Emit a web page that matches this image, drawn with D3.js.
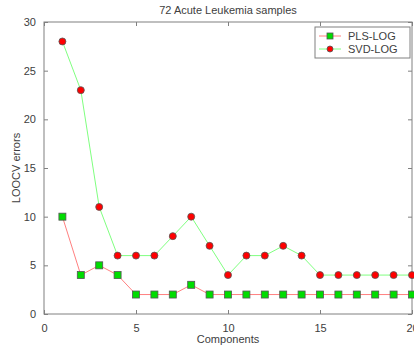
<!DOCTYPE html>
<html>
<head>
<meta charset="utf-8">
<script src="https://cdn.jsdelivr.net/npm/d3@7"></script>
<style>
  body { margin: 0; background: #fff; }
  svg { display: block; font-family: "Liberation Sans", Arial, sans-serif; }
</style>
</head>
<body>
<svg id="chart" width="414" height="350"></svg>
<script>
// values
const components = d3.range(1, 21);
const plsLog = [10, 4, 5, 4, 2, 2, 2, 3, 2, 2, 2, 2, 2, 2, 2, 2, 2, 2, 2, 2];
const svdLog = [28, 23, 11, 6, 6, 6, 8, 10, 7, 4, 6, 6, 7, 6, 4, 4, 4, 4, 4, 4];
const xTicks = [0, 5, 10, 15, 20];
const yTicks = [0, 5, 10, 15, 20, 25, 30];

const width = 414, height = 350;
const margin = { top: 22, right: 2, bottom: 36, left: 44 };

const svg = d3.select("#chart");

const x = d3.scaleLinear().domain([0, 20]).range([margin.left, width - margin.right]);
const y = d3.scaleLinear().domain([0, 30]).range([height - margin.bottom, margin.top]);

const axisColor = "#808080";
const textColor = "#404040";

// frame
svg.append("rect")
  .attr("x", x(0)).attr("y", y(30))
  .attr("width", x(20) - x(0)).attr("height", y(0) - y(30))
  .attr("fill", "none").attr("stroke", axisColor).attr("stroke-width", 1);

// bottom / left axes with inward ticks
const xAxis = svg.append("g")
  .attr("transform", `translate(0,${y(0)})`)
  .call(d3.axisBottom(x).tickValues(xTicks).tickSizeInner(-4).tickSizeOuter(0).tickPadding(8));
const yAxis = svg.append("g")
  .attr("transform", `translate(${x(0)},0)`)
  .call(d3.axisLeft(y).tickValues(yTicks).tickSizeInner(-4).tickSizeOuter(0).tickPadding(8));

// top / right ticks (no labels)
svg.append("g")
  .attr("transform", `translate(0,${y(30)})`)
  .call(d3.axisTop(x).tickValues(xTicks).tickSizeInner(-4).tickSizeOuter(0).tickFormat(""));
svg.append("g")
  .attr("transform", `translate(${x(20)},0)`)
  .call(d3.axisRight(y).tickValues(yTicks).tickSizeInner(-4).tickSizeOuter(0).tickFormat(""));

svg.selectAll(".domain").remove();
svg.selectAll(".tick line").attr("stroke", axisColor);
svg.selectAll(".tick text").attr("fill", textColor).attr("font-size", 11);
xAxis.selectAll(".tick text").attr("dy", "0.9em");

// titles
svg.append("text")
  .attr("x", (x(0) + x(20)) / 2).attr("y", 14)
  .attr("text-anchor", "middle").attr("font-size", 11).attr("fill", textColor)
  .text("72 Acute Leukemia samples");
svg.append("text")
  .attr("x", (x(0) + x(20)) / 2).attr("y", 343)
  .attr("text-anchor", "middle").attr("font-size", 11).attr("fill", textColor)
  .text("Components");
svg.append("text")
  .attr("transform", `translate(20,${(y(0) + y(30)) / 2}) rotate(-90)`)
  .attr("text-anchor", "middle").attr("font-size", 11).attr("fill", textColor)
  .text("LOOCV errors");

const line = d3.line().x((d, i) => x(components[i])).y(d => y(d));

// SVD-LOG
svg.append("path").datum(svdLog)
  .attr("d", line).attr("fill", "none").attr("stroke", "#80ff80").attr("stroke-width", 1);
svg.append("g").selectAll("circle").data(svdLog).join("circle")
  .attr("cx", (d, i) => x(components[i])).attr("cy", d => y(d)).attr("r", 3.5)
  .attr("fill", "#ff0000").attr("stroke", "#555").attr("stroke-width", 0.8);

// PLS-LOG
svg.append("path").datum(plsLog)
  .attr("d", line).attr("fill", "none").attr("stroke", "#ff8080").attr("stroke-width", 1);
svg.append("g").selectAll("rect").data(plsLog).join("rect")
  .attr("x", (d, i) => x(components[i]) - 3.5).attr("y", d => y(d) - 3.5)
  .attr("width", 7).attr("height", 7)
  .attr("fill", "#00dd00").attr("stroke", "#555").attr("stroke-width", 0.8);

// legend
const legend = svg.append("g").attr("transform", "translate(315,27)");
legend.append("rect")
  .attr("width", 95).attr("height", 31)
  .attr("fill", "#fff").attr("stroke", axisColor);
const items = [
  { name: "PLS-LOG", line: "#ff8080", marker: "square" },
  { name: "SVD-LOG", line: "#80ff80", marker: "circle" }
];
items.forEach((it, i) => {
  const cy = 9 + i * 13;
  legend.append("line")
    .attr("x1", 4).attr("x2", 26).attr("y1", cy).attr("y2", cy)
    .attr("stroke", it.line);
  if (it.marker === "square") {
    legend.append("rect").attr("x", 12).attr("y", cy - 3).attr("width", 6).attr("height", 6)
      .attr("fill", "#00dd00").attr("stroke", "#555").attr("stroke-width", 0.8);
  } else {
    legend.append("circle").attr("cx", 15).attr("cy", cy).attr("r", 3)
      .attr("fill", "#ff0000").attr("stroke", "#555").attr("stroke-width", 0.8);
  }
  legend.append("text")
    .attr("x", 33).attr("y", cy + 4)
    .attr("font-size", 11).attr("fill", textColor)
    .text(it.name);
});
</script>
</body>
</html>
